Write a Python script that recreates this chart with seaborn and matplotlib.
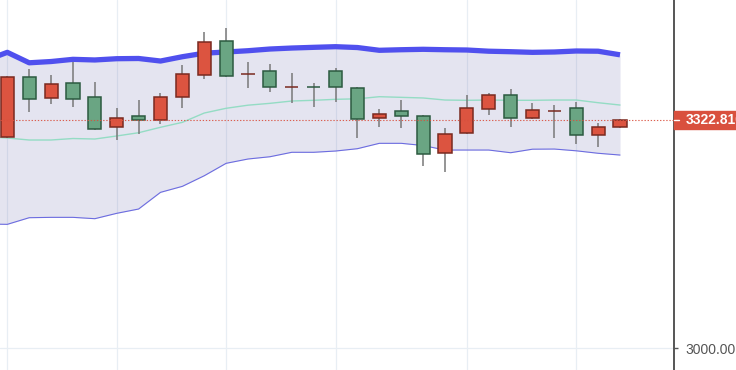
import numpy as np
import pandas as pd
import matplotlib
matplotlib.use("Agg")
import matplotlib.pyplot as plt
import seaborn as sns

# ---- data ----
opens  = [3299.2, 3384.1, 3354.4, 3374.8, 3355.4, 3313.3, 3328.0, 3322.4, 3355.8, 3386.5,
          3434.7, 3387.6, 3392.2, 3369.7, 3369.3, 3392.2, 3368.5, 3325.2, 3335.1, 3328.5,
          3276.5, 3304.0, 3338.8, 3358.2, 3325.2, 3335.2, 3339.4, 3302.0, 3312.5]
closes = [3383.3, 3353.0, 3373.3, 3353.0, 3310.1, 3325.6, 3322.4, 3355.4, 3387.5, 3433.2,
          3384.7, 3388.2, 3369.5, 3370.2, 3368.9, 3369.5, 3323.8, 3331.7, 3328.5, 3274.7,
          3302.6, 3339.4, 3358.2, 3325.2, 3336.5, 3335.8, 3301.6, 3313.3, 3322.81]
highs  = [3385.1, 3394.6, 3386.5, 3404.5, 3376.2, 3340.2, 3350.7, 3361.5, 3400.2, 3447.0,
          3452.6, 3404.5, 3402.1, 3389.8, 3375.6, 3396.9, 3369.9, 3338.4, 3350.7, 3329.5,
          3311.1, 3358.2, 3361.7, 3366.3, 3346.4, 3344.0, 3347.9, 3318.1, 3324.6]
lows   = [3296.9, 3334.6, 3345.0, 3340.8, 3308.2, 3294.9, 3303.4, 3317.6, 3340.2, 3381.3,
          3383.3, 3367.7, 3362.9, 3347.3, 3341.6, 3347.9, 3297.7, 3312.5, 3311.1, 3257.7,
          3248.8, 3303.0, 3329.5, 3312.5, 3324.0, 3297.3, 3288.4, 3285.0, 3311.5]

# Bollinger bands (first value belongs to the session before the first visible candle)
band_idx = list(range(-1, 29))
upper  = [3407.0, 3418.6, 3403.8, 3405.6, 3408.7, 3407.8, 3409.6, 3409.9, 3406.3, 3412.4,
          3417.4, 3419.1, 3420.9, 3423.3, 3424.7, 3425.7, 3426.6, 3425.4, 3421.5, 3422.3,
          3422.9, 3422.3, 3421.9, 3420.2, 3419.5, 3418.6, 3419.1, 3420.5, 3420.2, 3415.1]
middle = [3299.4, 3297.3, 3294.5, 3294.5, 3296.6, 3295.9, 3300.2, 3304.8, 3312.5, 3319.5,
          3332.7, 3339.4, 3343.8, 3346.4, 3349.7, 3350.7, 3352.1, 3352.8, 3355.8, 3354.9,
          3354.0, 3351.1, 3350.7, 3351.1, 3350.7, 3350.7, 3351.1, 3351.1, 3347.3, 3344.0]
lower  = [3175.6, 3175.1, 3184.5, 3185.0, 3185.0, 3183.1, 3190.7, 3196.8, 3220.4, 3228.9,
          3243.9, 3261.5, 3267.6, 3270.8, 3277.1, 3277.1, 3278.9, 3282.2, 3289.8, 3289.8,
          3286.7, 3280.3, 3280.3, 3280.3, 3276.5, 3281.5, 3281.7, 3279.2, 3275.7, 3273.2]

grid_idx = [0, 5, 10, 15, 21, 26]
y_ticks = [3000]
last_price_label = "3322.810"

# ---- styling ----
UP_FILL, UP_EDGE = "#dc5440", "#7a2a20"
DN_FILL, DN_EDGE = "#6aa583", "#2c5a40"
WICK = "#787878"

sns.set_theme(style="white")
plt.rcParams["font.family"] = ["Liberation Sans", "DejaVu Sans"]

W, H = 736, 370
fig = plt.figure(figsize=(W / 100, H / 100), dpi=100)
ax_right = 674.3 / W
ax = fig.add_axes([0, 0, ax_right, 1])

bands = pd.DataFrame({"idx": band_idx, "upper": upper, "middle": middle, "lower": lower})
candles = pd.DataFrame({"idx": range(len(opens)), "open": opens, "close": closes,
                        "high": highs, "low": lows})

# band fill
ax.fill_between(bands["idx"], bands["lower"], bands["upper"],
                color=(0.39, 0.39, 0.67), alpha=0.17, lw=0, zorder=1)
sns.lineplot(data=bands, x="idx", y="upper", ax=ax, color="#5050ee", lw=3.8,
             zorder=2, solid_capstyle="butt")
sns.lineplot(data=bands, x="idx", y="lower", ax=ax, color="#6c6ce0", lw=0.8, zorder=2)
sns.lineplot(data=bands, x="idx", y="middle", ax=ax, color="#94dcc4", lw=1.0, zorder=2)

# candles
up = candles["close"] >= candles["open"]
ax.vlines(candles["idx"], candles["low"], candles["high"], color=WICK, lw=1.1, zorder=3)
body_bottom = np.minimum(candles["open"], candles["close"])
body_h = np.maximum(np.abs(candles["close"] - candles["open"]), 0.4)
fills = [UP_FILL if u else DN_FILL for u in up]
edges = [UP_EDGE if u else DN_EDGE for u in up]
ax.bar(candles["idx"], body_h, bottom=body_bottom, width=0.6, color=fills,
       edgecolor=edges, linewidth=1.1, zorder=4)

# last price dotted line
ax.axhline(closes[-1], color="#d9503e", lw=0.8, ls=(0, (1.2, 1.6)), zorder=5, alpha=0.9)

# axes
ax.set_xlim(-0.334, 30.48)
ax.set_ylim(2968.9, 3492.7)
ax.set_xticks(grid_idx)
ax.set_xticklabels([])
ax.tick_params(axis="x", length=0)
ax.yaxis.tick_right()
ax.set_yticks(y_ticks)
ax.set_yticklabels([f"{v:.2f}" for v in y_ticks])
ax.tick_params(axis="y", direction="out", length=3, width=1, color="#555555",
               labelcolor="#555555", labelsize=10, pad=5)
ax.grid(True, color="#e8eef4", lw=0.9, zorder=0)
ax.set_axisbelow(True)
for s in ["left", "top", "bottom"]:
    ax.spines[s].set_visible(False)
ax.spines["right"].set_color("#555555")
ax.spines["right"].set_linewidth(1.4)
ax.set_xlabel("")
ax.set_ylabel("")
ax.set_facecolor("white")

# price tag
ypix = (closes[-1] - 2968.9) / (3492.7 - 2968.9)
tag_h = 18.5 / H
fig.patches.append(plt.Rectangle((ax_right, ypix - tag_h / 2), 1 - ax_right, tag_h,
                                 transform=fig.transFigure, color="#d9503e", zorder=10))
fig.lines.append(plt.Line2D([ax_right, ax_right + 5 / W], [ypix, ypix],
                            transform=fig.transFigure, color="white", lw=1, zorder=11))
fig.text(686 / W, ypix, last_price_label, color="white", fontsize=10, fontweight="bold",
         va="center", ha="left", zorder=12)

fig.savefig("out.png", dpi=100)
